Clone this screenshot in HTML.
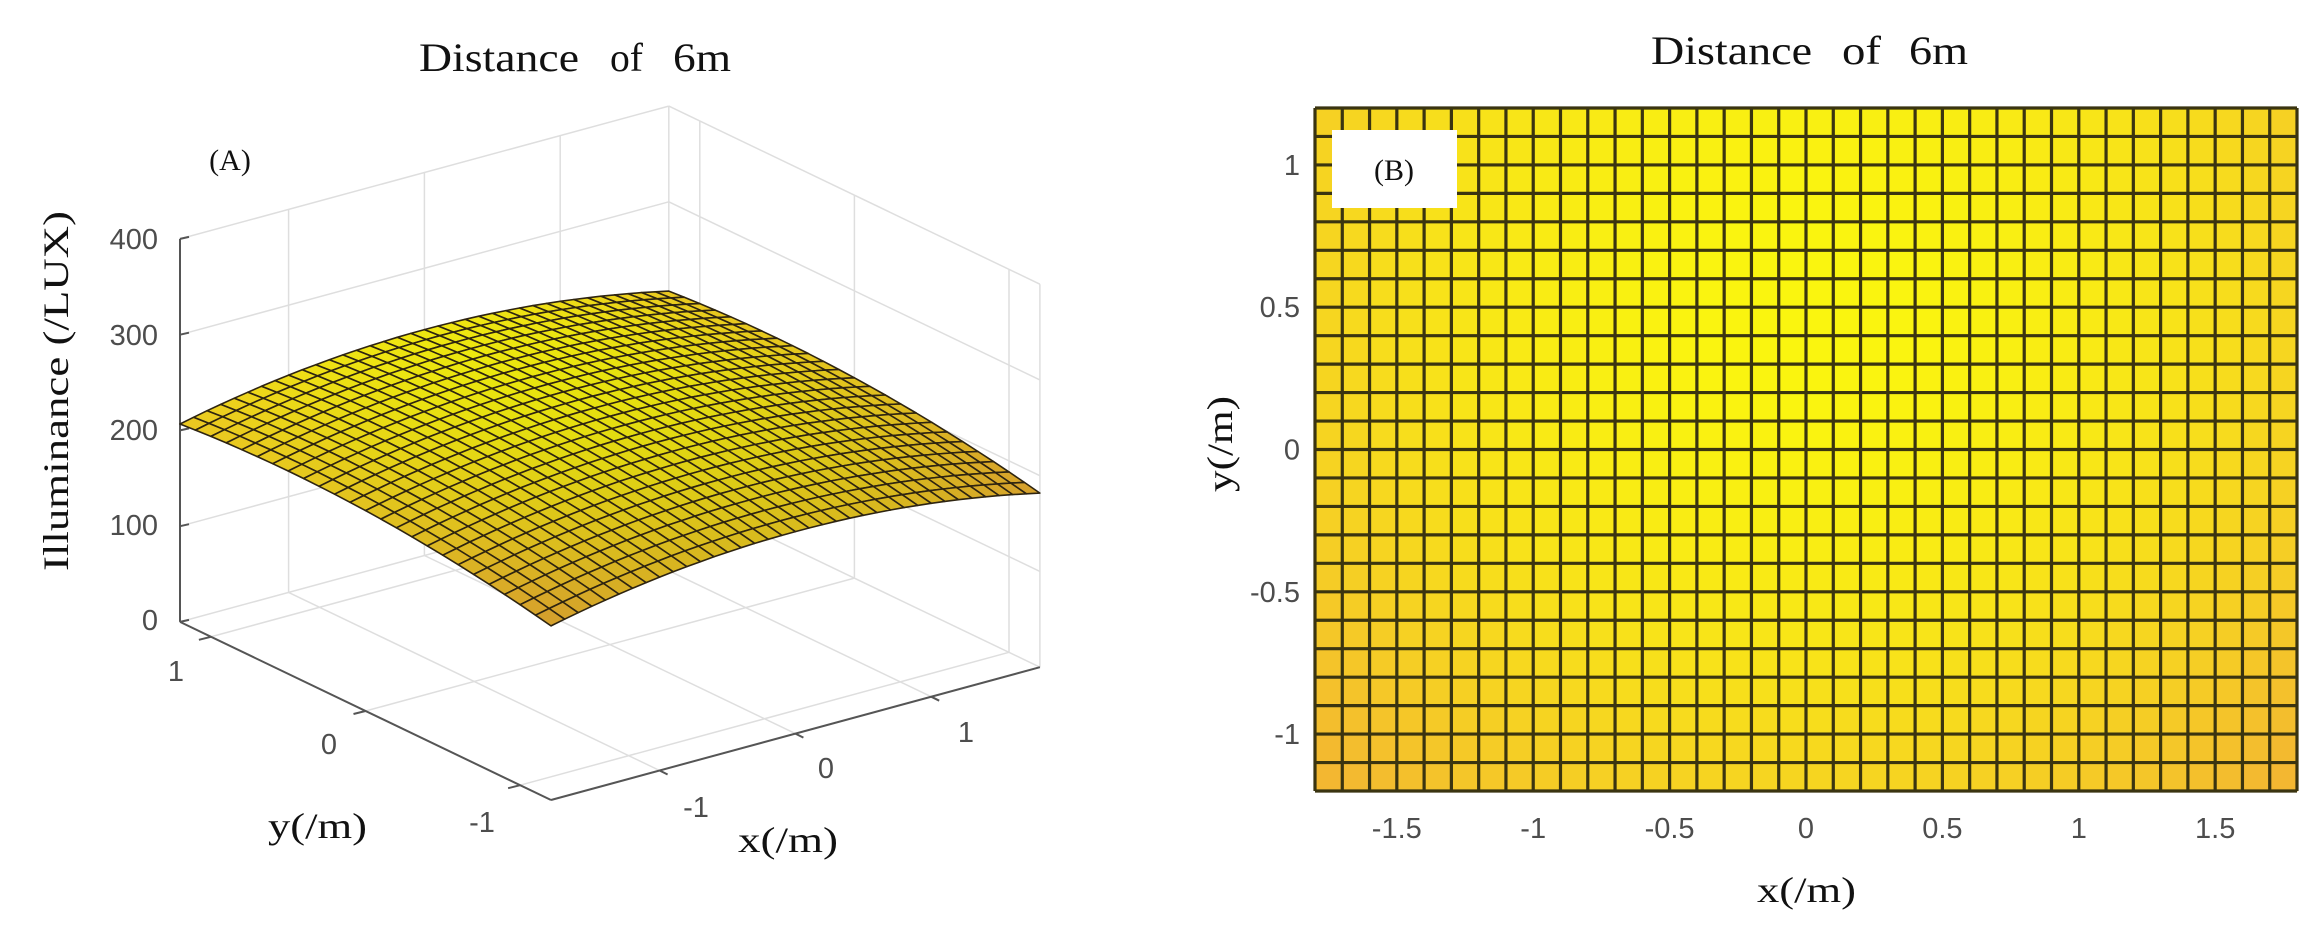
<!DOCTYPE html>
<html><head><meta charset="utf-8">
<style>
html,body{margin:0;padding:0;background:#fff;overflow:hidden;}
svg{display:block;}
.t{font-family:"Liberation Serif",serif;fill:#111;}
.n{font-family:"Liberation Sans",sans-serif;fill:#4d4d4d;font-size:29px;}
</style></head>
<body>
<svg id="s" width="2304" height="947" viewBox="0 0 2304 947" xmlns="http://www.w3.org/2000/svg">
<rect width="2304" height="947" fill="#fff"/>
<g id="A"></g>
<g id="B"></g>
<text class="t" x="419" y="71" font-size="40" textLength="160" lengthAdjust="spacingAndGlyphs">Distance</text>
<text class="t" x="610" y="71" font-size="40" textLength="33" lengthAdjust="spacingAndGlyphs">of</text>
<text class="t" x="673" y="71" font-size="40" textLength="58" lengthAdjust="spacingAndGlyphs">6m</text>
<text class="t" x="230" y="170" font-size="30" text-anchor="middle">(A)</text>
<text class="t" transform="translate(68,391) rotate(-90)" font-size="36" text-anchor="middle" textLength="360" lengthAdjust="spacingAndGlyphs">Illuminance  (/LUX)</text>
<text class="n" x="158" y="249" text-anchor="end">400</text>
<text class="n" x="158" y="345" text-anchor="end">300</text>
<text class="n" x="158" y="440" text-anchor="end">200</text>
<text class="n" x="158" y="535" text-anchor="end">100</text>
<text class="n" x="158" y="630" text-anchor="end">0</text>
<text class="n" x="176" y="681" text-anchor="middle">1</text>
<text class="n" x="329" y="754" text-anchor="middle">0</text>
<text class="n" x="482" y="832" text-anchor="middle">-1</text>
<text class="n" x="696" y="817" text-anchor="middle">-1</text>
<text class="n" x="826" y="778" text-anchor="middle">0</text>
<text class="n" x="966" y="742" text-anchor="middle">1</text>
<text class="t" x="268" y="838" font-size="36" textLength="99" lengthAdjust="spacingAndGlyphs">y(/m)</text>
<text class="t" x="738" y="852" font-size="36" textLength="100" lengthAdjust="spacingAndGlyphs">x(/m)</text>
<text class="t" x="1651" y="64" font-size="40" textLength="161" lengthAdjust="spacingAndGlyphs">Distance</text>
<text class="t" x="1842" y="64" font-size="40" textLength="39" lengthAdjust="spacingAndGlyphs">of</text>
<text class="t" x="1909" y="64" font-size="40" textLength="59" lengthAdjust="spacingAndGlyphs">6m</text>
<text class="t" x="1757" y="902" font-size="36" textLength="99" lengthAdjust="spacingAndGlyphs">x(/m)</text>
<text class="t" transform="translate(1232,444) rotate(-90)" font-size="36" text-anchor="middle" textLength="96" lengthAdjust="spacingAndGlyphs">y(/m)</text>
</svg>
<script>
(function(){
var NS="http://www.w3.org/2000/svg";
function el(p,tag,at){var e=document.createElementNS(NS,tag);for(var k in at)e.setAttribute(k,at[k]);p.appendChild(e);return e;}
function f(x,y){return 241-9*x*x-10.4*(y-0.5)*(y-0.5);}
var zmin=181,zmax=241;
function col(z,sh){var t=(z-zmin)/(zmax-zmin);t=Math.max(0,Math.min(1,t));
 var r=242+(250-242)*t,g=178+(245-178)*t,b=52+(15-52)*t;sh=sh||1;
 return "rgb("+Math.round(r*sh)+","+Math.round(g*sh)+","+Math.round(b*sh)+")";}
var A=document.getElementById("A");
function P(x,y,z){return [551+(x+1.8)*135.8-(y+1.2)*154.6, 800-(x+1.8)*36.9-(y+1.2)*74.2-0.9575*z];}
function line(g,a,b,c,w){el(g,"line",{x1:a[0].toFixed(1),y1:a[1].toFixed(1),x2:b[0].toFixed(1),y2:b[1].toFixed(1),stroke:c,"stroke-width":w});}
var gc="#dedede";
[100,200,300,400].forEach(function(z){line(A,P(-1.8,1.2,z),P(1.8,1.2,z),gc,1.5);line(A,P(1.8,1.2,z),P(1.8,-1.2,z),gc,1.5);});
[-1,0,1].forEach(function(x){line(A,P(x,1.2,0),P(x,1.2,400),gc,1.5);line(A,P(x,1.2,0),P(x,-1.2,0),gc,1.5);});
[-1,0,1].forEach(function(y){line(A,P(1.8,y,0),P(1.8,y,400),gc,1.5);line(A,P(-1.8,y,0),P(1.8,y,0),gc,1.5);});
line(A,P(1.8,1.2,0),P(1.8,1.2,400),gc,1.5);
line(A,P(1.8,-1.2,0),P(1.8,-1.2,400),gc,1.5);
line(A,P(-1.8,1.2,0),P(1.8,1.2,0),gc,1.5);
line(A,P(1.8,1.2,0),P(1.8,-1.2,0),gc,1.5);
var ac="#555";
line(A,P(-1.8,1.2,0),P(-1.8,1.2,400),ac,2);
line(A,P(-1.8,1.2,0),P(-1.8,-1.2,0),ac,2);
line(A,P(-1.8,-1.2,0),P(1.8,-1.2,0),ac,2);
[0,100,200,300,400].forEach(function(z){var p=P(-1.8,1.2,z);line(A,p,[p[0]+9,p[1]-2],ac,2);});
[-1,0,1].forEach(function(y){var p=P(-1.8,y,0);line(A,p,[p[0]-12,p[1]+3],ac,2);});
[-1,0,1].forEach(function(x){var p=P(x,-1.2,0);line(A,p,[p[0]+8,p[1]+4],ac,2);});
var N=36,M=24,d=0.1,s="";
for(var j=M-1;j>=0;j--){for(var i=N-1;i>=0;i--){
 var x0=-1.8+i*d,x1=x0+d,y0=-1.2+j*d,y1=y0+d;
 var pts=[P(x0,y0,f(x0,y0)),P(x1,y0,f(x1,y0)),P(x1,y1,f(x1,y1)),P(x0,y1,f(x0,y1))];
 var zc=f(x0+d/2,y0+d/2);
 var sh=0.88+0.08*((y0+1.2)/2.4);
 s+='<polygon points="'+pts.map(function(p){return p[0].toFixed(1)+","+p[1].toFixed(1);}).join(" ")+'" fill="'+col(zc,sh)+'" stroke="#2e2410" stroke-width="1.6" stroke-linejoin="round"/>';
}}
A.insertAdjacentHTML("beforeend",s);
var B=document.getElementById("B");
var L=1315,R=2297,T=108,Bo=791;
var sx=(R-L)/3.6,sy=(Bo-T)/2.4,cw=sx/10,ch=sy/10;
s="";
for(var j=0;j<24;j++){for(var i=0;i<36;i++){
 var xc=-1.8+(i+0.5)*0.1,yc=1.2-(j+0.5)*0.1;
 s+='<rect x="'+(L+i*cw).toFixed(2)+'" y="'+(T+j*ch).toFixed(2)+'" width="'+(cw+0.6).toFixed(2)+'" height="'+(ch+0.6).toFixed(2)+'" fill="'+col(f(xc,yc))+'"/>';
}}
for(var i=0;i<=36;i++){var x=(L+i*cw).toFixed(2);s+='<line x1="'+x+'" y1="'+T+'" x2="'+x+'" y2="'+Bo+'" stroke="#3a3410" stroke-width="3.2"/>';}
for(var j=0;j<=24;j++){var y=(T+j*ch).toFixed(2);s+='<line x1="'+L+'" y1="'+y+'" x2="'+R+'" y2="'+y+'" stroke="#3a3410" stroke-width="3.2"/>';}
s+='<rect x="1332" y="130" width="125" height="78" fill="#fff"/>';
s+='<text class="t" x="1394" y="180" font-size="30" text-anchor="middle">(B)</text>';
[1,0.5,0,-0.5,-1].forEach(function(v){var y=449.5-v*sy;s+='<text class="n" x="1300" y="'+(y+10).toFixed(1)+'" text-anchor="end">'+v+'</text>';});
[-1.5,-1,-0.5,0,0.5,1,1.5].forEach(function(v){var x=(L+R)/2+v*sx;s+='<text class="n" x="'+x.toFixed(1)+'" y="838" text-anchor="middle">'+v+'</text>';});
B.insertAdjacentHTML("beforeend",s);
})();
</script>
</body></html>
